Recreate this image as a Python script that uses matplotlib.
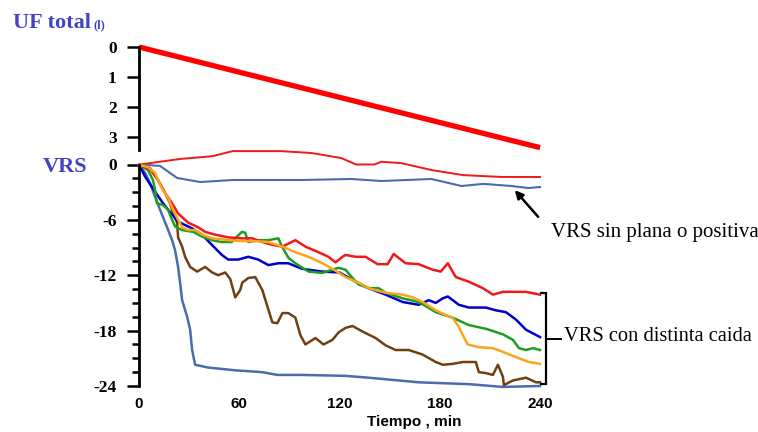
import matplotlib
matplotlib.use("Agg")
import matplotlib.pyplot as plt
from matplotlib.ticker import FixedLocator, MultipleLocator
from matplotlib.font_manager import FontProperties

plt.rcParams["axes.unicode_minus"] = False

# ---------------- data ----------------
uf_t = [0, 240]
uf_l = [0, 3.35]

# "VRS sin plana o positiva"
flat_red_t = [0, 6.6, 24.6, 44, 56, 85, 103, 121, 130, 141, 145, 157, 175, 194, 217, 240]
flat_red_v = [0, 0.15, 0.6, 0.9, 1.45, 1.45, 1.25, 0.7, 0.0, 0.0, 0.3, 0.15, -0.6, -1.15, -1.35, -1.35]

flat_blue_t = [0, 12.6, 22.8, 36.6, 56, 97, 127, 145, 175, 193, 206, 223, 233, 240]
flat_blue_v = [0, -0.15, -1.46, -1.9, -1.68, -1.68, -1.57, -1.79, -1.57, -2.33, -2.1, -2.33, -2.55, -2.44]

# "VRS con distinta caida"
navy_t = [0, 3.6, 7.6, 13.6, 17.4, 23.4, 31.6, 37.6, 43.6, 49.6, 53.4, 59.4, 65.4, 71.4, 77.4,
          83.4, 89.4, 97.6, 109.6, 120, 127.8, 137.4, 147.6, 157.8, 167.4, 173.4, 177.6, 181.8,
          184.8, 187.8, 191.4, 197.4, 207.6, 213.6, 219.6, 225.6, 231.6, 240]
navy_v = [0, -1.3, -2.4, -4.0, -4.9, -6.2, -6.9, -7.6, -8.7, -9.8, -10.3, -10.3, -10.0, -10.3, -10.9,
          -10.7, -10.7, -11.3, -11.6, -11.7, -12.5, -13.4, -14.1, -14.9, -15.2, -14.7, -15.0, -14.5,
          -14.3, -14.7, -15.2, -15.5, -15.5, -15.8, -16.0, -16.8, -17.9, -18.7]

green_t = [0, 5.4, 8.4, 9.6, 10.8, 14.4, 17.4, 19.8, 21.6, 25.6, 32.4, 37.6, 43.6, 49.6, 55.6,
           57.6, 61.6, 63.6, 65.4, 71.4, 77.4, 83.4, 85.6, 89.4, 93.6, 101.4, 109.6, 115.6, 119.4,
           123.6, 127.8, 131.4, 137.4, 143.4, 147.6, 157.8, 167.4, 177.6, 187.8, 197.4, 207.6,
           217.8, 223.8, 227.4, 231.6, 235.8, 240]
green_v = [0, -0.6, -1.7, -2.8, -4.2, -4.4, -4.9, -6.0, -6.7, -7.1, -7.3, -7.8, -8.2, -8.4, -8.4,
           -8.0, -7.3, -7.4, -8.4, -8.2, -8.2, -8.0, -8.9, -10.1, -10.7, -11.6, -11.75, -11.4, -11.2,
           -11.4, -12.3, -13.0, -13.4, -13.4, -13.9, -14.5, -14.9, -16.0, -16.6, -17.4, -17.8,
           -18.4, -19.0, -19.9, -20.1, -19.9, -20.1]

orange_t = [0, 5.4, 9.6, 11.4, 14.4, 17.4, 20.4, 23.4, 25.8, 29.4, 33.6, 37.8, 43.8, 53.4, 61.8,
            69.6, 77.4, 85.8, 93.6, 101.4, 109.8, 117.6, 123.6, 131.4, 137.4, 147.6, 157.8, 163.8,
            169.8, 177.6, 183.6, 187.8, 191.4, 194.4, 196.8, 203.4, 211.8, 217.8, 227.4, 233.4, 240]
orange_v = [0, -0.3, -0.9, -1.7, -2.8, -3.6, -4.9, -6.0, -6.8, -7.1, -7.1, -7.6, -8.0, -8.2, -8.3,
            -8.3, -8.4, -8.9, -9.5, -10.0, -10.7, -11.5, -12.2, -12.8, -13.4, -13.9, -14.1, -14.4,
            -14.9, -15.8, -16.3, -16.6, -17.6, -18.7, -19.5, -19.8, -19.9, -20.3, -21.0, -21.4, -21.6]

red_t = [0, 7.2, 11.4, 15.6, 19.8, 23.4, 29.4, 35.4, 39.6, 45.6, 53.4, 61.8, 67.8, 73.8, 79.8,
         85.8, 93.6, 99.6, 107.4, 113.4, 117.6, 121.8, 123.6, 129.6, 135.6, 142.8, 148.8, 152.4,
         159.6, 167.4, 175.8, 180.6, 184.8, 189.6, 197.4, 205.8, 211.8, 217.8, 225.6, 231.6, 240]
red_v = [0, -0.6, -1.7, -3.1, -4.2, -5.3, -6.3, -6.8, -7.3, -7.6, -7.9, -8.0, -8.0, -8.4, -8.7,
         -8.9, -8.2, -8.9, -9.5, -10.0, -10.6, -10.0, -9.8, -10.0, -10.0, -10.8, -10.8, -9.7,
         -10.7, -10.8, -11.4, -11.6, -10.7, -12.2, -12.7, -13.4, -14.1, -13.8, -13.8, -13.8, -14.1]

steel_t = [0, 3.6, 6.6, 9.6, 12.6, 16.8, 19.8, 21.6, 23.4, 24.6, 25.8, 28.8, 30.6, 31.8, 33.6,
           41.4, 57.6, 73.8, 82.8, 97.8, 123.6, 137.4, 167.4, 197.4, 217.8, 240]
steel_v = [0, -0.9, -2.0, -3.5, -4.9, -6.8, -8.2, -9.3, -11.1, -12.8, -14.7, -16.5, -17.9, -20.1, -21.7,
           -22.0, -22.3, -22.5, -22.8, -22.8, -22.9, -23.1, -23.6, -23.8, -24.1, -24.0]

brown_t = [0, 6.6, 11.4, 15.6, 18.6, 20.4, 22.8, 23.4, 25.8, 27.6, 30.6, 34.8, 39.6, 43.8, 47.4,
           51.6, 54.6, 57.6, 60.6, 61.8, 65.4, 69.6, 73.8, 79.8, 82.8, 85.8, 89.4, 93.6, 96.6,
           99.6, 105.6, 110.4, 115.8, 119.4, 123.6, 127.8, 133.8, 141.6, 147.6, 153.6, 161.4,
           169.8, 177.6, 181.8, 187.8, 193.8, 201.6, 203.4, 207.6, 211.8, 214.8, 217.8, 218.4,
           223.8, 231.6, 237.6, 240]
brown_v = [0, -0.4, -1.7, -3.1, -4.2, -5.3, -6.3, -7.9, -8.9, -10.0, -11.1, -11.6, -11.1, -11.7, -12.0,
           -11.7, -12.4, -14.4, -13.6, -12.8, -12.3, -12.2, -13.6, -17.1, -17.2, -16.1, -16.1, -16.6, -18.5,
           -19.5, -18.8, -19.5, -19.0, -18.2, -17.7, -17.5, -18.1, -18.8, -19.6, -20.1, -20.1,
           -20.6, -21.4, -21.7, -21.6, -21.4, -21.4, -22.5, -22.6, -22.8, -21.7, -23.0, -23.9,
           -23.4, -23.1, -23.6, -23.6]

x_ticks = [0, 60, 120, 180, 240]
uf_ticks = [0, 1, 2, 3]
vrs_ticks = [0, -6, -12, -18, -24]

# ---------------- style ----------------
TITLE_BLUE = "#4343C3"
serif_b = dict(family="Liberation Serif", weight="bold")
sans_b = dict(family="Liberation Sans", weight="bold")
ytick_fp = FontProperties(family="Liberation Serif", weight="bold", size=12.5)
xtick_fp = FontProperties(family="Liberation Sans", weight="bold", size=11)

W, H = 758, 432
fig = plt.figure(figsize=(W / 100, H / 100), dpi=100)

def frac(x0, y0, x1, y1):
    return [x0 / W, 1 - y1 / H, (x1 - x0) / W, (y1 - y0) / H]

# Upper axes (UF total)
ax1 = fig.add_axes(frac(139, 47, 540, 150))
ax1.set_xlim(0, 240)
ax1.set_ylim(3.43, 0)
ax1.plot(uf_t, uf_l, color="#FF0000", lw=3.8, solid_capstyle="butt", clip_on=False)
for s in ["top", "right", "bottom"]:
    ax1.spines[s].set_visible(False)
ax1.spines["left"].set_linewidth(2.0)
ax1.set_xticks([])
ax1.set_yticks(uf_ticks)
ax1.tick_params(axis="y", length=9, width=1.8, pad=7)
for lab in ax1.get_yticklabels():
    lab.set_fontproperties(ytick_fp)
ax1.patch.set_visible(False)

# Lower axes (VRS)
ax2 = fig.add_axes(frac(139, 164.5, 540, 386))
ax2.set_xlim(0, 240)
ax2.set_ylim(-24, 0)
for s in ["top", "right", "bottom"]:
    ax2.spines[s].set_visible(False)
ax2.spines["left"].set_linewidth(2.0)
ax2.yaxis.set_major_locator(FixedLocator(vrs_ticks))
ax2.yaxis.set_minor_locator(MultipleLocator(1.5))
ax2.tick_params(axis="y", which="major", length=9, width=1.8, pad=7)
ax2.tick_params(axis="y", which="minor", length=5, width=1.8)
ax2.set_xticks(x_ticks)
ax2.tick_params(axis="x", length=0, pad=8)
for lab in ax2.get_yticklabels():
    lab.set_fontproperties(ytick_fp)
for lab in ax2.get_xticklabels():
    lab.set_fontproperties(xtick_fp)
ax2.patch.set_visible(False)

lw = 1.8
ax2.plot(flat_red_t, flat_red_v, color="#F01818", lw=1.4, clip_on=False)
ax2.plot(flat_blue_t, flat_blue_v, color="#4A6BAD", lw=1.5, clip_on=False)
ax2.plot(steel_t, steel_v, color="#4A6BAD", lw=lw, clip_on=False)
ax2.plot(brown_t, brown_v, color="#6E4112", lw=lw, clip_on=False)
ax2.plot(navy_t, navy_v, color="#0000CD", lw=lw, clip_on=False)
ax2.plot(green_t, green_v, color="#1E9E1E", lw=lw, clip_on=False)
ax2.plot(red_t, red_v, color="#F01818", lw=lw, clip_on=False)
ax2.plot(orange_t, orange_v, color="#FBA51C", lw=lw, clip_on=False)

# Annotations
ax2.annotate("", xy=(223.8, -2.55), xytext=(240, -5.9),
             arrowprops=dict(arrowstyle="-|>", color="black", lw=1.8, mutation_scale=12),
             annotation_clip=False)
ax2.text(246.6, -7.4, "VRS sin plana o positiva", family="Liberation Serif", fontsize=15,
         va="center", ha="left", clip_on=False)

ax2.plot([240.6, 243.6, 243.6, 240.6], [-13.9, -13.9, -23.8, -23.8], color="black", lw=1.6,
         clip_on=False, solid_joinstyle="miter")
ax2.plot([243.6, 252.6], [-18.9, -18.9], color="black", lw=1.4, clip_on=False)
ax2.text(254.4, -18.6, "VRS con distinta caida", family="Liberation Serif", fontsize=14.8,
         va="center", ha="left", clip_on=False)

# Titles
fig.text(13 / W, 1 - 23 / H, "UF total", color=TITLE_BLUE, fontsize=16, va="center", ha="left", **serif_b)
fig.text(94 / W, 1 - 25 / H, "(l)", color=TITLE_BLUE, fontsize=9, va="center", ha="left", **serif_b)
fig.text(43 / W, 1 - 167 / H, "VRS", color=TITLE_BLUE, fontsize=16, va="center", ha="left", **serif_b)
fig.text(414 / W, 1 - 422 / H, "Tiempo , min", fontsize=11, va="center", ha="center", **sans_b)

fig.savefig("out.png", dpi=100)
